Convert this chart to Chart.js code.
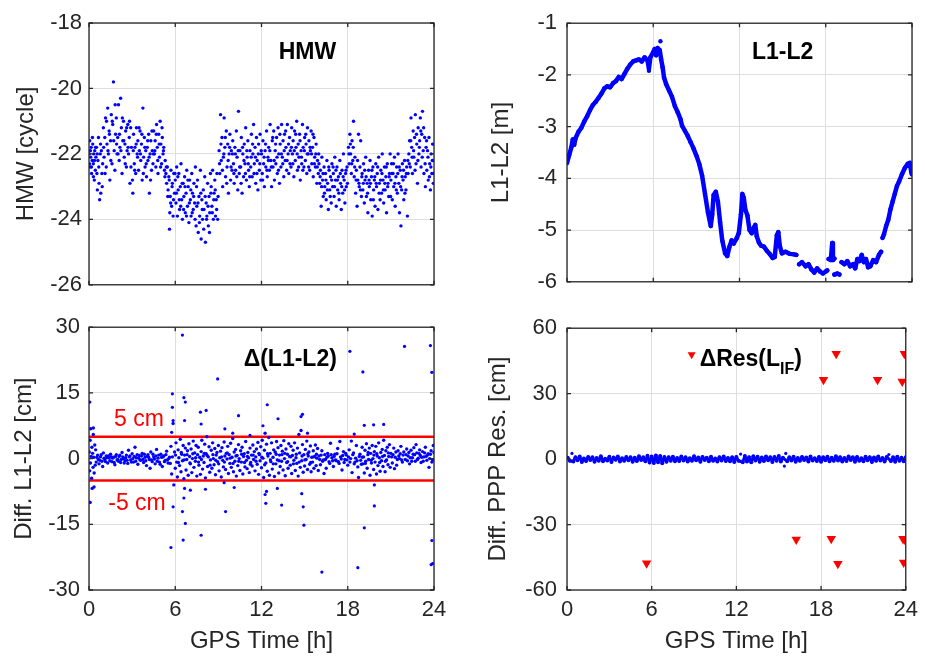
<!DOCTYPE html>
<html>
<head>
<meta charset="utf-8">
<script src="https://cdn.jsdelivr.net/npm/chart.js@4.4.1/dist/chart.umd.min.js"></script>
<style>
  body { margin: 0; background: #fff; }
  #wrap { position: relative; width: 925px; height: 656px; }
  canvas { position: absolute; }
</style>
</head>
<body>
<div id="wrap">
  <canvas id="hmwChart" width="455" height="305" style="left:0;top:0"></canvas>
  <canvas id="gfChart" width="470" height="305" style="left:455px;top:0"></canvas>
  <canvas id="diffChart" width="455" height="351" style="left:0;top:305px"></canvas>
  <canvas id="pppChart" width="470" height="351" style="left:455px;top:305px"></canvas>
</div>
<script>
// ---- data (GPS time [h], value) ----
const timeTicks = [0, 6, 12, 18, 24];

const hmwPoints = [
  [0.02,-22.0],[0.05,-21.6],[0.08,-22.4],[0.12,-22.1],[0.15,-21.8],[0.18,-22.6],[0.22,-22.2],[0.26,-21.7],[0.3,-22.3],[0.33,-22.0],[0.37,-22.8],[0.4,-21.9],[0.44,-22.5],[0.48,-22.1],
  [0.52,-21.8],[0.55,-22.6],[0.58,-23.1],[0.62,-22.2],[0.66,-21.5],[0.7,-22.9],[0.74,-23.4],[0.78,-22.0],[0.82,-23.2],[0.86,-21.9],[0.9,-22.6],[0.95,-22.3],
  [1.0,-21.2],[1.05,-22.1],[1.1,-21.5],[1.15,-20.9],[1.2,-22.4],[1.25,-21.7],[1.3,-20.6],[1.35,-22.0],[1.4,-21.3],[1.45,-22.8],[1.5,-21.6],[1.55,-20.8],[1.6,-22.3],[1.65,-21.1],[1.7,-19.8],[1.75,-21.9],[1.8,-22.5],[1.85,-21.4],[1.9,-20.9],[1.95,-22.0],
  [2.0,-21.5],[2.05,-20.5],[2.1,-22.2],[2.15,-21.8],[2.2,-20.3],[2.25,-21.2],[2.3,-22.6],[2.35,-21.6],[2.4,-21.0],[2.45,-22.1],[2.5,-21.7],[2.55,-21.3],[2.6,-22.4],[2.65,-21.9],[2.7,-21.1],[2.75,-22.0],[2.8,-21.5],[2.85,-22.9],[2.9,-21.2],[2.95,-21.8],[3.02,-22.8],[3.05,-23.2],
  [3.1,-21.4],[3.15,-22.3],[3.2,-21.8],[3.25,-22.6],[3.3,-21.2],[3.35,-22.0],[3.4,-21.6],[3.45,-22.5],[3.5,-21.9],[3.55,-21.3],[3.6,-22.2],[3.65,-21.7],[3.7,-22.8],[3.75,-20.6],[3.8,-22.1],[3.85,-21.5],[3.9,-22.4],[3.95,-21.9],[4.0,-22.7],[4.05,-21.8],[4.1,-22.2],[4.15,-21.4],[4.2,-23.2],[4.25,-22.0],[4.3,-21.6],[4.35,-22.5],[4.4,-21.9],[4.45,-22.3],
  [4.5,-21.3],[4.55,-22.0],[4.6,-21.6],[4.65,-22.4],[4.7,-21.1],[4.75,-21.8],[4.8,-22.6],[4.85,-21.4],[4.9,-22.1],[4.95,-21.0],[5.0,-21.7],[5.05,-22.3],[5.1,-21.5],[5.15,-22.0],[5.2,-21.8],[5.25,-22.5],
  [5.3,-22.2],[5.35,-22.6],[5.4,-22.9],[5.45,-22.4],[5.5,-23.1],[5.55,-22.7],[5.6,-24.3],[5.62,-23.8],[5.65,-23.3],[5.7,-22.5],[5.75,-23.6],[5.8,-22.9],[5.85,-23.9],[5.9,-22.6],[5.95,-23.2],
  [6.0,-22.8],[6.05,-23.5],[6.1,-22.4],[6.15,-23.9],[6.2,-23.1],[6.25,-22.6],[6.3,-23.7],[6.35,-23.0],[6.4,-22.3],[6.45,-23.4],[6.5,-24.0],[6.55,-22.9],[6.6,-23.3],[6.65,-22.7],[6.7,-23.8],[6.75,-23.2],[6.8,-22.5],[6.85,-23.6],[6.9,-23.0],[6.95,-24.1],[7.0,-22.8],[7.05,-23.4],[7.1,-23.9],[7.15,-22.6],[7.2,-23.2],[7.25,-23.7],[7.3,-22.9],[7.35,-23.5],[7.4,-22.4],[7.45,-24.2],
  [7.5,-23.6],[7.55,-22.8],[7.6,-24.4],[7.65,-23.3],[7.7,-23.9],[7.75,-22.5],[7.8,-24.6],[7.85,-23.4],[7.9,-24.0],[7.95,-23.1],[8.0,-23.7],[8.05,-22.7],[8.1,-24.7],[8.15,-23.5],[8.2,-23.9],[8.25,-22.9],[8.3,-24.2],[8.35,-23.3],[8.4,-23.8],[8.45,-22.6],
  [8.5,-23.0],[8.55,-23.6],[8.6,-22.5],[8.65,-24.0],[8.7,-23.2],[8.75,-22.8],[8.8,-23.9],[8.85,-23.4],[8.9,-22.6],[8.95,-24.0],
  [9.05,-21.9],[9.1,-22.6],[9.15,-20.8],[9.2,-22.2],[9.25,-21.5],[9.3,-23.0],[9.35,-22.1],[9.4,-20.9],[9.45,-21.8],[9.5,-22.7],[9.55,-21.3],[9.6,-22.4],[9.65,-21.7],[9.7,-23.2],[9.75,-22.0],[9.8,-21.4],[9.85,-22.8],[9.9,-21.9],[9.95,-22.5],
  [10.0,-21.6],[10.05,-22.3],[10.1,-22.9],[10.15,-21.8],[10.2,-22.5],[10.25,-21.3],[10.3,-22.1],[10.35,-23.1],[10.4,-20.7],[10.45,-22.6],[10.5,-21.9],[10.55,-22.4],[10.6,-21.5],[10.65,-23.2],[10.7,-22.0],[10.75,-22.7],[10.8,-21.7],[10.85,-22.3],[10.9,-21.2],[10.95,-22.8],[11.0,-22.1],[11.05,-21.6],[11.1,-22.5],[11.15,-23.0],[11.2,-21.9],[11.25,-22.4],[11.3,-21.4],[11.35,-22.7],[11.4,-22.0],[11.45,-21.1],
  [11.5,-22.3],[11.55,-21.8],[11.6,-22.9],[11.65,-21.5],[11.7,-22.2],[11.75,-23.1],[11.8,-21.7],[11.85,-22.5],[11.9,-21.4],[11.95,-22.8],[12.0,-22.0],[12.05,-22.6],[12.1,-21.6],[12.15,-22.3],[12.2,-23.0],[12.25,-21.9],[12.3,-22.4],[12.35,-21.3],[12.4,-22.7],[12.45,-22.1],
  [12.5,-21.8],[12.55,-22.5],[12.6,-21.1],[12.65,-22.2],[12.7,-23.0],[12.75,-21.6],[12.8,-22.4],[12.85,-21.3],[12.9,-22.8],[12.95,-21.9],[13.0,-22.3],[13.05,-21.5],[13.1,-22.6],[13.15,-21.2],[13.2,-22.0],[13.25,-22.9],[13.3,-21.7],[13.35,-22.4],[13.4,-21.1],[13.45,-22.1],[13.5,-21.6],[13.55,-22.7],[13.6,-21.4],[13.65,-22.2],[13.7,-21.8],[13.75,-22.5],[13.8,-21.1],[13.85,-22.0],[13.9,-22.6],[13.95,-21.5],
  [14.0,-21.9],[14.05,-22.4],[14.1,-21.2],[14.15,-22.0],[14.2,-21.6],[14.25,-22.7],[14.3,-21.3],[14.35,-22.2],[14.4,-21.8],[14.45,-21.0],[14.5,-22.5],[14.55,-21.7],[14.6,-22.1],[14.65,-21.4],[14.7,-22.8],[14.75,-21.9],[14.8,-22.3],[14.85,-21.1],[14.9,-21.8],[14.95,-22.4],
  [15.0,-21.5],[15.05,-22.2],[15.1,-21.7],[15.15,-22.6],[15.2,-21.2],[15.25,-22.0],[15.3,-21.6],[15.35,-22.5],[15.4,-21.9],[15.45,-21.3],[15.5,-22.3],[15.55,-21.8],[15.6,-22.7],[15.65,-21.5],[15.7,-22.1],[15.75,-22.4],[15.8,-21.7],[15.85,-22.9],[15.9,-22.2],[15.95,-22.6],
  [16.0,-22.3],[16.05,-22.9],[16.1,-22.5],[16.15,-23.6],[16.2,-22.1],[16.25,-22.8],[16.3,-23.3],[16.35,-22.4],[16.4,-23.0],[16.45,-22.6],[16.5,-23.4],[16.55,-22.2],[16.6,-22.9],[16.65,-23.7],[16.7,-22.5],[16.75,-23.1],[16.8,-22.7],[16.85,-23.5],[16.9,-22.3],[16.95,-23.0],
  [17.0,-22.6],[17.05,-23.3],[17.1,-22.1],[17.15,-22.8],[17.2,-23.6],[17.25,-22.4],[17.3,-23.1],[17.35,-22.7],[17.4,-23.4],[17.45,-22.2],[17.5,-22.9],[17.55,-23.7],[17.6,-22.5],[17.65,-23.2],[17.7,-22.0],[17.75,-22.8],[17.8,-23.5],[17.85,-22.6],[17.9,-23.0],[17.95,-22.4],
  [18.05,-21.8],[18.1,-22.3],[18.15,-21.4],[18.2,-22.0],[18.25,-22.6],[18.3,-21.6],[18.35,-22.2],[18.4,-21.0],[18.45,-22.7],[18.5,-22.1],[18.55,-23.2],[18.6,-22.5],[18.65,-23.6],[18.7,-22.8],[18.75,-21.4],[18.8,-23.0],[18.85,-22.4],[18.9,-21.6],[18.95,-23.3],
  [19.0,-22.6],[19.05,-23.1],[19.1,-22.3],[19.15,-23.5],[19.2,-22.8],[19.25,-22.1],[19.3,-23.3],[19.35,-22.9],[19.4,-23.8],[19.45,-22.5],[19.5,-23.0],[19.55,-22.2],[19.6,-23.4],[19.65,-22.7],[19.7,-23.9],[19.75,-22.4],[19.8,-23.1],[19.85,-22.8],[19.9,-23.6],[19.95,-22.3],
  [20.0,-23.0],[20.05,-22.6],[20.1,-23.7],[20.15,-22.1],[20.2,-22.9],[20.25,-23.4],[20.3,-22.5],[20.35,-23.2],[20.4,-22.0],[20.45,-22.8],[20.5,-23.5],[20.55,-22.4],[20.6,-23.1],[20.65,-22.7],[20.7,-23.8],[20.75,-22.3],[20.8,-22.9],[20.85,-23.3],[20.9,-22.6],[20.95,-22.0],
  [21.0,-22.8],[21.05,-22.3],[21.1,-23.4],[21.15,-22.6],[21.2,-23.0],[21.25,-22.1],[21.3,-23.6],[21.35,-22.7],[21.4,-22.4],[21.45,-23.2],[21.5,-22.0],[21.55,-22.9],[21.6,-23.8],[21.65,-22.5],[21.7,-24.2],[21.75,-23.1],[21.8,-22.3],[21.85,-22.8],[21.9,-23.4],[21.95,-22.2],[22.0,-22.7],[22.05,-23.1],[22.1,-22.4],[22.15,-23.9],[22.2,-22.6],[22.25,-22.0],
  [22.3,-21.6],[22.35,-22.4],[22.4,-20.9],[22.45,-21.8],[22.5,-22.6],[22.55,-21.3],[22.6,-22.1],[22.65,-21.5],[22.7,-20.8],[22.75,-22.3],[22.8,-21.7],[22.85,-22.9],[22.9,-21.2],[22.95,-22.0],[23.0,-21.6],[23.05,-20.9],[23.1,-22.4],[23.15,-21.4],[23.2,-20.7],[23.25,-21.9],[23.3,-22.6],[23.35,-21.5],[23.4,-23.0],[23.45,-21.8],
  [23.5,-22.5],[23.55,-21.9],[23.6,-22.8],[23.65,-21.5],[23.7,-22.3],[23.75,-23.1],[23.8,-22.0],[23.85,-22.6],[23.9,-21.7],[23.95,-22.9],[24.0,-22.2],
  // second pass over the denser core of the cloud
  [0.03,-22.3],[0.1,-21.9],[0.17,-22.4],[0.24,-21.5],[0.31,-22.7],[0.38,-22.2],[0.45,-21.8],[0.57,-22.0],[0.68,-22.4],[0.8,-21.7],[0.92,-23.0],
  [1.02,-21.8],[1.12,-22.6],[1.22,-21.0],[1.32,-21.9],[1.42,-21.4],[1.52,-22.2],[1.62,-21.0],[1.72,-21.6],[1.82,-20.5],[1.92,-21.7],
  [2.02,-22.0],[2.12,-21.4],[2.22,-21.9],[2.32,-20.9],[2.42,-21.6],[2.52,-22.3],[2.62,-21.2],[2.72,-21.8],[2.82,-21.0],[2.92,-22.4],
  [3.08,-21.9],[3.18,-22.5],[3.28,-21.7],[3.38,-22.1],[3.48,-21.2],[3.58,-22.0],[3.68,-21.4],[3.78,-22.6],[3.88,-21.8],[3.98,-22.3],[4.08,-21.6],[4.18,-22.1],[4.28,-22.8],[4.38,-21.3],[4.48,-22.0],
  [4.58,-21.9],[4.68,-21.4],[4.78,-22.2],[4.88,-21.7],[4.98,-22.4],[5.08,-21.2],[5.18,-21.9],[5.28,-22.7],
  [5.38,-22.4],[5.48,-23.3],[5.58,-22.8],[5.68,-23.5],[5.78,-23.0],[5.88,-23.4],[5.98,-22.6],
  [6.08,-23.2],[6.18,-22.7],[6.28,-23.4],[6.38,-23.6],[6.48,-22.9],[6.58,-23.7],[6.68,-23.0],[6.78,-23.9],[6.88,-22.8],[6.98,-23.5],[7.08,-23.1],[7.18,-23.8],[7.28,-23.3],[7.38,-24.0],[7.48,-23.0],
  [7.58,-23.5],[7.68,-24.1],[7.78,-23.2],[7.88,-23.7],[7.98,-24.3],[8.08,-23.3],[8.18,-24.0],[8.28,-23.6],[8.38,-24.4],[8.48,-23.2],[8.58,-23.8],[8.68,-23.4],[8.78,-23.1],[8.88,-23.7],[8.98,-23.3],
  [9.08,-22.3],[9.18,-21.7],[9.28,-22.5],[9.38,-22.0],[9.48,-21.5],[9.58,-22.9],[9.68,-22.2],[9.78,-21.8],[9.88,-22.4],[9.98,-22.0],[10.08,-22.6],[10.18,-22.0],[10.28,-22.7],[10.38,-21.9],[10.48,-22.4],
  [10.58,-22.9],[10.68,-21.8],[10.78,-22.2],[10.88,-22.6],[10.98,-21.9],[11.08,-22.3],[11.18,-22.7],[11.28,-22.1],[11.38,-21.7],[11.48,-22.6],
  [11.58,-22.1],[11.68,-22.6],[11.78,-22.0],[11.88,-22.3],[11.98,-21.9],[12.08,-22.8],[12.18,-22.1],[12.28,-21.7],[12.38,-22.5],[12.48,-22.2],[12.58,-21.9],[12.68,-22.4],[12.78,-21.5],[12.88,-22.2],[12.98,-21.7],
  [13.08,-22.1],[13.18,-22.5],[13.28,-21.4],[13.38,-22.0],[13.48,-22.3],[13.58,-21.9],[13.68,-21.3],[13.78,-22.2],[13.88,-21.7],[13.98,-22.3],[14.08,-21.8],[14.18,-22.3],[14.28,-21.9],[14.38,-21.4],[14.48,-22.0],
  [14.58,-22.4],[14.68,-21.6],[14.78,-22.1],[14.88,-22.5],[14.98,-21.9],[15.08,-21.4],[15.18,-22.0],[15.28,-22.4],[15.38,-21.8],[15.48,-22.0],[15.58,-21.4],[15.68,-22.3],[15.78,-22.0],[15.88,-22.4],[15.98,-22.0],
  [16.08,-22.7],[16.18,-23.0],[16.28,-22.6],[16.38,-23.2],[16.48,-22.8],[16.58,-23.1],[16.68,-22.4],[16.78,-23.3],[16.88,-22.8],[16.98,-22.4],[17.08,-23.0],[17.18,-22.5],[17.28,-22.8],[17.38,-23.2],[17.48,-22.6],
  [17.58,-23.0],[17.68,-22.7],[17.78,-23.1],[17.88,-22.5],[17.98,-22.9],
  [18.08,-22.0],[18.18,-21.7],[18.28,-22.3],[18.38,-21.8],[18.48,-22.4],[18.58,-22.8],[18.68,-22.2],[18.78,-22.9],[18.88,-23.1],[18.98,-22.7],[19.08,-22.9],[19.18,-22.5],[19.28,-22.7],[19.38,-23.2],[19.48,-22.8],
  [19.58,-22.9],[19.68,-22.5],[19.78,-23.4],[19.88,-22.7],[19.98,-22.9],[20.08,-22.4],[20.18,-23.2],[20.28,-22.8],[20.38,-22.6],[20.48,-23.1],[20.58,-22.9],[20.68,-22.4],[20.78,-23.0],[20.88,-22.7],[20.98,-23.3],
  [21.08,-22.6],[21.18,-22.3],[21.28,-22.9],[21.38,-23.1],[21.48,-22.6],[21.58,-22.4],[21.68,-23.0],[21.78,-22.7],[21.88,-22.5],[21.98,-23.2],[22.08,-22.6],[22.18,-22.2],[22.28,-22.3],[22.38,-21.6],[22.48,-22.1],
  [22.58,-21.9],[22.68,-22.5],[22.78,-21.4],[22.88,-22.2],[22.98,-21.8],[23.08,-21.3],[23.18,-22.1],[23.28,-21.2],[23.38,-22.3],[23.48,-21.6],[23.58,-22.1],[23.68,-22.7],[23.78,-22.4],[23.88,-22.2],[23.98,-22.6]
];

// geometry-free L1-L2 [m], gaps marked with null
const gfPoints = [
  [0.0,-3.70],[0.15,-3.55],[0.3,-3.40],[0.4,-3.25],[0.5,-3.35],[0.6,-3.22],[0.8,-3.10],[1.0,-3.02],[1.2,-2.90],[1.4,-2.80],[1.6,-2.68],[1.8,-2.58],[2.0,-2.52],[2.2,-2.44],[2.4,-2.36],[2.6,-2.26],[2.8,-2.22],[3.0,-2.24],[3.2,-2.16],[3.4,-2.12],[3.6,-2.04],[3.8,-2.08],[4.0,-1.98],[4.2,-1.88],[4.4,-1.80],[4.6,-1.74],[4.8,-1.72],[5.0,-1.70],[5.2,-1.74],[5.4,-1.66],[5.6,-1.72],[5.7,-1.88],[5.8,-1.66],[6.0,-1.56],[6.1,-1.50],[6.2,-1.62],[6.3,-1.48],[6.45,-1.52],[6.55,-1.70],[6.65,-1.85],[6.75,-2.05],[6.9,-2.18],[7.1,-2.30],[7.3,-2.42],[7.5,-2.60],[7.7,-2.72],[7.9,-2.86],[8.0,-2.98],[8.2,-3.08],[8.4,-3.18],[8.6,-3.30],[8.8,-3.42],[9.0,-3.56],[9.2,-3.72],[9.4,-3.95],[9.6,-4.30],[9.8,-4.65],[10.0,-4.92],[10.1,-4.70],[10.2,-4.32],[10.35,-4.26],[10.5,-4.45],[10.65,-4.85],[10.8,-5.20],[11.0,-5.45],[11.15,-5.50],[11.3,-5.32],[11.45,-5.20],[11.6,-5.26],[11.8,-5.16],[11.95,-5.06],[12.1,-4.70],[12.2,-4.30],[12.3,-4.38],[12.4,-4.60],[12.55,-4.72],[12.7,-5.00],[12.85,-5.06],[13.0,-4.95],[13.1,-4.90],[13.2,-5.12],[13.35,-5.24],[13.5,-5.30],[13.7,-5.32],[13.9,-5.40],[14.1,-5.46],[14.3,-5.54],[14.45,-5.52],[14.6,-5.10],[14.7,-5.04],[14.8,-5.30],[14.95,-5.45],[15.2,-5.42],[15.5,-5.46],[15.8,-5.47],[15.95,-5.48],
  [16.05,null],
  [16.15,-5.66],[16.35,-5.62],[16.6,-5.70],[16.8,-5.66],[17.0,-5.76],[17.2,-5.82],[17.4,-5.74],[17.6,-5.80],[17.8,-5.84],[18.0,-5.80],[18.1,-5.78],
  [18.15,null],
  [18.2,-5.56],[18.35,-5.58],[18.45,-5.25],[18.5,-5.58],[18.6,-5.55],
  [18.6,null],
  [18.6,-5.86],[18.8,-5.84],[18.95,-5.86],
  [19.0,null],
  [19.1,-5.62],[19.3,-5.66],[19.5,-5.60],[19.7,-5.70],[19.9,-5.66],[20.05,-5.74],[20.2,-5.56],[20.35,-5.60],[20.5,-5.48],[20.65,-5.62],[20.8,-5.56],[20.95,-5.72],[21.1,-5.70],[21.3,-5.58],[21.5,-5.62],[21.7,-5.48],[21.85,-5.42],
  [21.9,null],
  [21.95,-5.15],[22.05,-5.08],[22.2,-4.92],[22.35,-4.80],[22.5,-4.60],[22.65,-4.45],[22.8,-4.30],[22.95,-4.15],[23.1,-4.06],[23.3,-3.92],[23.5,-3.80],[23.7,-3.72],[23.85,-3.70],[23.95,-3.88],[24.0,-3.92]
];
const gfSpikes = [[6.5,-1.35],[5.7,-1.92],[18.5,-5.58]];

// difference of L1-L2 [cm]
const diffPoints = [
  [0.02,1.5],[0.05,-2.8],[0.08,4.2],[0.1,-1.0],[0.12,6.8],[0.15,0.5],[0.18,-4.5],[0.2,2.6],[0.22,-6.8],[0.25,1.2],[0.28,-2.0],[0.3,5.5],[0.33,0.3],[0.36,-3.3],[0.4,3.1],[0.43,-1.5],[0.46,2.0],[0.5,-0.8],[0.08,-10.0],[0.05,12.9],[0.3,7.0],[0.35,-6.5],
  [0.6,0.8],[0.7,-1.2],[0.8,0.4],[0.9,-0.6],[1.0,1.3],[1.1,-0.3],[1.2,0.6],[1.3,-1.0],[1.4,0.2],[1.5,1.0],[1.6,-0.7],[1.7,0.3],[1.8,-1.4],[1.9,0.9],[2.0,-0.2],[2.1,0.5],[2.2,-0.9],[2.3,1.4],[2.4,0.0],[2.5,-0.5],[2.6,0.8],[2.7,-1.1],[2.8,0.4],[2.9,-0.3],[3.0,1.1],[3.1,-0.8],[3.2,2.6],[3.3,0.2],[3.4,-1.3],[3.5,0.7],[3.6,-0.4],[3.7,1.2],[3.8,-0.9],[3.9,0.3],[4.0,-1.6],[4.1,0.9],[4.2,-0.2],[4.3,1.5],[4.4,-0.7],[4.5,0.4],[4.6,-1.2],[4.7,2.1],[4.8,0.1],[4.9,-0.8],[5.0,1.0],[5.1,-1.8],[5.2,0.6],[5.3,-0.4],[5.4,1.7],[5.5,-1.0],[5.6,0.3],
  [0.65,-0.2],[1.05,0.1],[1.55,0.4],[2.05,-0.6],[2.55,0.2],[3.05,0.0],[3.55,-0.3],[4.05,0.5],[4.55,-0.1],[5.05,0.3],[5.55,0.0],[0.95,-1.8],[2.75,1.9],[4.25,-2.2],
  [5.7,2.8],[5.75,-3.5],[5.8,0.4],[5.85,8.0],[5.9,-6.0],[5.95,1.5],[6.0,-2.2],[6.05,3.6],[6.1,-0.8],[6.15,-4.2],[6.2,2.0],[6.25,0.2],[6.3,-1.6],[6.35,4.4],[6.4,-3.0],[6.45,1.0],[6.5,-0.5],[6.55,3.0],[6.6,-4.6],[6.65,0.8],[6.7,2.4],[6.75,-2.6],[6.8,-0.2],[6.85,1.8],[6.9,-3.8],[6.95,3.4],
  [7.0,0.5],[7.05,-1.2],[7.1,2.2],[7.15,-3.2],[7.2,0.0],[7.25,4.0],[7.3,-2.0],[7.35,1.3],[7.4,-0.6],[7.45,3.0],[7.5,-4.0],[7.55,0.9],[7.6,2.6],[7.65,-1.5],[7.7,0.3],[7.75,-3.6],[7.8,1.6],[7.85,4.2],[7.9,-2.4],[7.95,0.6],
  [8.0,-0.9],[8.05,3.3],[8.1,-4.4],[8.15,1.1],[8.2,5.0],[8.25,-1.8],[8.3,0.4],[8.35,2.7],[8.4,-3.1],[8.45,-0.3],[8.5,1.9],[8.55,-2.2],[8.6,3.6],[8.65,0.0],[8.7,-1.4],[8.75,2.3],[8.8,-3.7],[8.85,0.8],[8.9,1.4],[8.95,-0.7],
  [9.0,3.0],[9.05,-2.8],[9.1,0.2],[9.15,1.7],[9.2,-4.2],[9.25,2.5],[9.3,-0.4],[9.35,-1.9],[9.4,3.8],[9.45,0.6],[9.5,-2.5],[9.55,1.2],[9.6,-0.1],[9.65,2.8],[9.7,-3.4],[9.75,0.9],[9.8,-1.1],[9.85,3.5],[9.9,-2.0],[9.95,0.3],
  [10.0,4.6],[10.05,-3.0],[10.1,1.5],[10.15,-0.6],[10.2,2.1],[10.25,-4.0],[10.3,0.7],[10.35,-1.6],[10.4,3.2],[10.45,0.0],[10.5,-2.7],[10.55,1.8],[10.6,-0.8],[10.65,2.6],[10.7,-3.5],[10.75,0.5],[10.8,1.1],[10.85,-1.9],[10.9,3.9],[10.95,-0.4],
  [11.0,-2.3],[11.05,1.4],[11.1,0.2],[11.15,-3.2],[11.2,2.4],[11.25,-0.9],[11.3,0.8],[11.35,-1.7],[11.4,3.1],[11.45,-0.2],[11.5,1.6],[11.55,-2.8],[11.6,0.4],[11.65,2.2],[11.7,-1.3],[11.75,3.7],[11.8,-3.6],[11.85,0.9],[11.9,-0.5],[11.95,2.7],
  [12.0,-2.1],[12.05,4.2],[12.1,0.1],[12.15,-4.3],[12.2,1.9],[12.25,5.8],[12.3,-1.0],[12.35,3.3],[12.4,-2.9],[12.45,0.6],[12.5,4.8],[12.55,-3.8],[12.6,1.2],[12.65,-0.7],[12.7,3.6],[12.75,-2.4],[12.8,0.3],[12.85,2.0],[12.9,-4.1],[12.95,1.5],
  [13.0,-1.2],[13.05,3.9],[13.1,-0.3],[13.15,2.5],[13.2,-3.3],[13.25,0.8],[13.3,-1.8],[13.35,3.0],[13.4,-0.6],[13.45,1.7],[13.5,-2.6],[13.55,4.1],[13.6,0.0],[13.65,-3.9],[13.7,2.2],[13.75,-0.9],[13.8,1.0],[13.85,-2.2],[13.9,3.4],[13.95,0.5],
  [14.0,-1.5],[14.05,2.8],[14.1,-3.4],[14.15,0.7],[14.2,1.9],[14.25,-0.4],[14.3,3.6],[14.35,-2.7],[14.4,0.2],[14.45,-1.1],[14.5,2.4],[14.55,-4.0],[14.6,5.5],[14.65,1.3],[14.7,-2.0],[14.75,6.4],[14.8,-0.5],[14.85,3.2],[14.9,-3.1],[14.95,0.9],
  [15.0,-1.7],[15.05,2.1],[15.1,-0.2],[15.15,4.0],[15.2,-2.5],[15.25,0.6],[15.3,1.5],[15.35,-1.3],[15.4,2.9],[15.45,-3.0],[15.5,0.3],[15.55,-0.8],[15.6,1.8],[15.65,-2.2],[15.7,0.5],[15.75,3.1],[15.8,-1.6],[15.85,0.1],[15.9,2.3],[15.95,-2.7],
  [16.0,0.6],[16.1,-1.4],[16.2,1.8],[16.3,-0.3],[16.4,0.9],[16.5,-2.2],[16.6,1.2],[16.7,-0.7],[16.8,3.5],[16.9,0.2],[17.0,-1.8],[17.1,1.0],[17.2,-0.5],[17.3,2.3],[17.4,-1.1],[17.5,0.4],[17.6,-2.6],[17.7,1.6],[17.8,-0.2],[17.9,0.8],[18.0,-1.5],[18.1,2.0],[18.2,0.0],[18.3,-3.2],[18.4,1.3],[18.5,-0.8],[18.6,3.0],[18.7,-1.9],[18.8,0.5],[18.9,-0.4],
  [16.05,-0.2],[16.55,0.3],[17.05,0.5],[17.55,-0.1],[18.05,0.4],[18.55,0.1],[16.35,-3.4],[17.45,3.9],[18.25,4.0],[18.75,-4.3],
  [19.0,2.6],[19.05,-1.2],[19.1,0.4],[19.15,-3.3],[19.2,1.9],[19.25,-0.6],[19.3,3.4],[19.35,-2.2],[19.4,0.9],[19.45,-0.2],[19.5,2.4],[19.55,-3.8],[19.6,1.2],[19.65,-1.0],[19.7,3.0],[19.75,0.0],[19.8,-2.5],[19.85,1.6],[19.9,-0.8],[19.95,2.8],
  [20.0,-3.5],[20.05,0.6],[20.1,-1.6],[20.15,3.6],[20.2,0.2],[20.25,-2.9],[20.3,1.4],[20.35,-0.5],[20.4,2.1],[20.45,-1.8],[20.5,4.2],[20.55,0.7],[20.6,-3.0],[20.65,1.8],[20.7,-0.3],[20.75,2.6],[20.8,-1.4],[20.85,0.5],[20.9,3.2],[20.95,-2.0],
  [21.0,1.2],[21.1,-1.0],[21.2,2.4],[21.3,0.3],[21.4,-1.5],[21.5,1.8],[21.6,0.0],[21.7,2.8],[21.8,-0.8],[21.9,1.5],[22.0,-0.2],[22.1,2.2],[22.2,0.6],[22.3,-1.2],[22.4,1.9],[22.5,0.2],[22.6,2.5],[22.7,-0.6],[22.8,1.3],[22.9,0.1],[23.0,2.0],[23.1,-0.9],[23.2,1.6],[23.3,0.4],[23.4,2.6],[23.5,-0.4],[23.6,1.1],[23.7,0.0],[23.8,1.8],[23.9,-0.3],[24.0,1.4],
  [21.05,0.4],[21.55,0.6],[22.05,0.9],[22.55,1.0],[23.05,0.7],[23.55,0.8],[21.25,-2.3],[22.75,3.2],[23.65,-2.0],[23.95,3.0],
  // core of the band
  [0.55,0.3],[0.75,-0.4],[0.85,0.9],[1.15,-0.7],[1.25,0.2],[1.35,0.6],[1.45,-0.5],[1.65,0.1],[1.75,-0.9],[1.85,0.5],[1.95,-0.3],[2.15,0.8],[2.25,-0.2],[2.35,0.4],[2.45,-1.0],[2.65,-0.4],[2.85,0.6],[2.95,-0.8],
  [3.15,0.5],[3.25,-0.6],[3.35,0.9],[3.45,0.1],[3.65,0.6],[3.75,-0.2],[3.85,1.0],[3.95,-0.5],[4.15,0.3],[4.35,-0.3],[4.45,1.0],[4.65,0.6],[4.75,-0.6],[4.85,0.8],[4.95,-1.3],[5.15,0.4],[5.25,-0.7],[5.35,0.9],[5.45,-0.3],[5.65,-1.1],
  [6.02,0.8],[6.22,-0.9],[6.42,1.4],[6.62,-0.3],[6.82,0.9],[7.02,-1.0],[7.22,1.1],[7.42,0.2],[7.62,-0.8],[7.82,-0.2],[8.02,1.2],[8.22,0.7],[8.42,-1.5],[8.62,0.9],[8.82,-0.4],[9.02,-1.2],[9.22,0.4],[9.42,-0.8],[9.62,1.3],[9.82,0.1],
  [10.02,-1.1],[10.22,0.6],[10.42,-0.6],[10.62,1.0],[10.82,-0.9],[11.02,0.5],[11.22,-1.3],[11.42,0.8],[11.62,-0.6],[11.82,1.2],[12.02,0.3],[12.22,-1.4],[12.42,1.1],[12.62,-0.3],[12.82,-1.2],[13.02,1.0],[13.22,-0.5],[13.42,0.9],[13.62,1.2],[13.82,-0.7],
  [14.02,0.4],[14.22,-1.2],[14.42,1.0],[14.62,-0.8],[14.82,0.6],[15.02,-0.3],[15.22,1.1],[15.42,-0.9],[15.62,0.4],[15.82,1.0],
  [16.15,0.8],[16.25,-0.6],[16.45,-0.2],[16.65,0.6],[16.75,-1.1],[16.85,0.9],[16.95,-0.5],[17.15,-0.3],[17.25,1.1],[17.35,-0.7],[17.65,0.7],[17.75,-0.9],[17.85,1.2],[17.95,-0.3],[18.15,-0.8],[18.35,0.9],[18.45,-1.2],[18.65,-0.5],[18.85,1.0],[18.95,-1.3],
  [19.02,0.3],[19.22,-1.1],[19.42,1.4],[19.62,-0.4],[19.82,0.8],[20.02,1.1],[20.22,-0.9],[20.42,0.5],[20.62,-0.6],[20.82,1.3],[21.15,0.9],[21.35,1.5],[21.45,-0.2],[21.65,1.1],[21.75,-0.3],[21.85,0.8],[22.15,-0.5],[22.25,1.4],[22.35,0.2],[22.45,-0.6],
  [22.65,0.9],[22.85,-0.2],[22.95,1.2],[23.15,0.3],[23.25,-0.6],[23.35,1.3],[23.45,0.5],[23.75,1.0],[23.85,-0.8]
];
const diffOutliers = [
  [5.8,14.8],[5.8,11.7],[5.85,8.7],[5.75,6.0],[6.6,13.9],[6.7,12.9],[6.65,8.7],[6.5,28.2],[5.7,-20.3],[5.85,-11.0],[6.5,-12.1],[6.7,-14.8],[6.55,-18.6],[6.6,-9.0],[6.65,-6.8],
  [8.95,18.2],[7.75,10.6],[8.15,11.0],[7.8,7.9],[7.8,-17.5],[9.5,-12.1],[9.45,6.8],[10.4,9.8],[10.0,5.8],[12.4,12.3],[13.15,9.1],[12.1,7.5],[12.3,-10.2],[12.25,-8.2],[12.35,-7.5],[13.4,-10.6],
  [14.75,9.6],[14.85,10.1],[14.95,-15.2],[14.8,-8.0],[14.9,-11.0],[16.2,-25.9],[18.15,24.5],[19.05,19.8],[19.15,7.6],[19.8,7.7],[20.5,7.8],[19.15,-15.8],[18.7,-24.9],[19.85,-10.8],[19.85,-6.0],
  [21.95,25.6],[23.75,25.8],[23.85,19.7],[23.85,-18.7],[23.8,-24.2],[23.9,-24.0],[18.45,5.6],[8.1,-7.0],[9.4,-5.5],[10.1,-6.6],[13.1,-6.8],[7.05,-7.2],[11.2,5.3],[15.2,5.8]
];
const diffLimits = [5, -5];

// PPP residual difference [cm]
const pppPoints = [
  [0.05,0.6],[0.2,-0.8],[0.45,-1.1],[0.6,0.9],[0.75,-0.5],[0.9,1.2],[1.05,-1.3],[1.2,0.3],[1.35,-0.9],[1.5,1.0],[1.65,-0.4],[1.8,0.8],[1.95,-1.2],[2.1,0.5],[2.25,-0.7],[2.4,1.3],[2.55,-1.0],[2.7,0.2],[2.85,-0.6],
  [3.0,1.1],[3.15,-1.3],[3.3,0.7],[3.45,-0.3],[3.6,1.2],[3.75,-1.1],[3.9,0.4],[4.05,-0.8],[4.2,1.0],[4.35,-0.5],[4.5,0.9],[4.65,-1.2],[4.8,0.6],[4.95,-0.9],[5.1,1.3],[5.25,-0.4],[5.4,0.8],[5.55,-1.0],[5.7,1.5],[5.85,-1.6],
  [6.0,1.2],[6.15,-1.8],[6.3,1.7],[6.45,-1.4],[6.6,1.4],[6.75,-1.9],[6.9,1.0],[7.05,-1.2],[7.2,0.9],[7.35,-0.7],[7.5,1.1],[7.65,-1.0],[7.8,0.5],[7.95,-0.9],[8.1,1.2],[8.25,-0.6],[8.4,0.8],[8.55,-1.1],[8.7,0.4],[8.85,-0.8],
  [9.0,1.3],[9.15,-0.5],[9.3,0.7],[9.45,-1.2],[9.6,1.0],[9.75,-0.4],[9.9,0.6],[10.05,-1.0],[10.2,1.1],[10.35,-0.7],[10.5,0.3],[10.65,-1.1],[10.8,0.9],[10.95,-0.6],[11.1,1.2],[11.25,-0.9],[11.4,0.5],[11.55,-1.0],[11.7,0.8],[11.85,-1.3],
  [12.0,1.0],[12.15,-0.8],[12.45,-1.4],[12.6,1.4],[12.75,-1.1],[12.9,0.9],[13.05,-1.5],[13.2,1.3],[13.35,-0.6],[13.5,1.1],[13.65,-1.2],[13.8,0.7],[13.95,-0.9],[14.1,1.2],[14.25,-0.5],[14.4,0.9],[14.55,-1.3],[14.7,1.0],[14.85,-0.7],
  [15.0,1.4],[15.15,-1.1],[15.3,0.6],[15.6,-1.0],[15.75,0.8],[15.9,-0.6],[16.05,1.1],[16.2,-1.2],[16.35,0.5],[16.5,-0.8],[16.65,1.0],[16.8,-0.4],[16.95,0.7],[17.1,-1.1],[17.25,1.2],[17.4,-0.6],[17.55,0.4],[17.7,-0.9],
  [17.85,1.0],[18.0,-1.2],[18.15,0.8],[18.3,-0.5],[18.45,1.1],[18.6,-1.0],[18.75,0.6],[18.9,-0.8],[19.05,1.3],[19.2,-0.6],[19.35,0.9],[19.5,-1.1],[19.65,0.5],[19.8,-0.9],[19.95,1.2],[20.1,-0.4],[20.25,0.8],[20.4,-1.2],[20.55,1.0],[20.7,-0.7],
  [20.85,0.4],[21.0,-1.0],[21.15,1.1],[21.3,-0.5],[21.45,0.9],[21.6,-1.3],[21.75,0.7],[21.9,-0.8],[22.05,1.2],[22.2,-0.6],[22.35,0.5],[22.5,-1.1],[22.65,1.0],[22.95,-0.9],[23.1,0.8],[23.25,-1.2],[23.4,1.1],[23.55,-0.7],[23.7,0.6],[23.85,-1.0],[24.0,0.9]
];
const pppSpikes = [[0.35,2.6],[12.3,2.3],[15.4,-3.2],[15.5,2.6],[22.8,2.1]];
const pppJumps = [
  [19.07,48.3],[23.9,48.3],[18.17,36.4],[22.0,36.4],[23.75,35.6],
  [16.24,-36.8],[18.72,-36.5],[23.8,-36.5],[23.9,-36.8],[5.64,-47.7],[19.19,-48.0],[23.85,-47.4]
];

// ---- styling helpers ----
const FONT = "'Liberation Sans', Arial, Helvetica, sans-serif";
const INK = '#262626';
const BLUE = '#0000ff';
const RED = '#ff0000';

const boxPlugin = {
  id: 'matlabBox',
  afterDatasetsDraw(chart) {
    const { ctx, chartArea: a, scales } = chart;
    ctx.save();
    ctx.strokeStyle = INK;
    ctx.lineWidth = 1.3;
    ctx.strokeRect(a.left, a.top, a.width, a.height);
    ctx.beginPath();
    scales.x.ticks.forEach(t => {
      const px = scales.x.getPixelForValue(t.value);
      ctx.moveTo(px, a.bottom); ctx.lineTo(px, a.bottom - 4);
      ctx.moveTo(px, a.top); ctx.lineTo(px, a.top + 4);
    });
    scales.y.ticks.forEach(t => {
      const py = scales.y.getPixelForValue(t.value);
      ctx.moveTo(a.left, py); ctx.lineTo(a.left + 4, py);
      ctx.moveTo(a.right, py); ctx.lineTo(a.right - 4, py);
    });
    ctx.stroke();
    ctx.restore();
  }
};

function labelPlugin(items) {
  return {
    id: 'panelLabels',
    afterDraw(chart) {
      const { ctx, scales: { x, y } } = chart;
      ctx.save();
      ctx.textBaseline = 'middle';
      items.forEach(it => {
        const px = x.getPixelForValue(it.x);
        const py = y.getPixelForValue(it.y);
        if (it.draw) { it.draw(ctx, px, py); return; }
        ctx.font = it.font;
        ctx.fillStyle = it.color || '#000';
        ctx.textAlign = it.align || 'center';
        ctx.fillText(it.text, px, py);
      });
      ctx.restore();
    }
  };
}

function makePanel(id, opts) {
  const showX = opts.showX;
  return new Chart(document.getElementById(id), {
    type: 'scatter',
    data: { datasets: opts.datasets },
    options: {
      responsive: false,
      animation: false,
      devicePixelRatio: 1,
      layout: { padding: opts.padding },
      plugins: { legend: { display: false }, tooltip: { enabled: false } },
      scales: {
        x: {
          type: 'linear', min: 0, max: 24,
          afterBuildTicks: s => { s.ticks = timeTicks.map(v => ({ value: v })); },
          afterFit: s => { s.height = opts.xHeight; },
          grid: { color: '#dedede', drawTicks: false },
          border: { display: false },
          ticks: { display: showX, color: INK, padding: 7, font: { family: FONT, size: 22 } },
          title: {
            display: showX, text: 'GPS Time [h]', color: INK,
            font: { family: FONT, size: 24 }, padding: { top: 0, bottom: 0 }
          }
        },
        y: {
          min: opts.yMin, max: opts.yMax,
          afterBuildTicks: s => { s.ticks = opts.yTicks.map(v => ({ value: v })); },
          afterFit: s => { s.width = opts.yWidth; },
          grid: { color: '#dedede', drawTicks: false },
          border: { display: false },
          ticks: { color: INK, padding: opts.tickPad, font: { family: FONT, size: 22 } },
          title: {
            display: true, text: opts.yTitle, color: INK,
            font: { family: FONT, size: 24 }, padding: { top: opts.titlePad, bottom: 0 }
          }
        }
      }
    },
    plugins: [boxPlugin, labelPlugin(opts.labels)]
  });
}

const dot = (data, color, r) => ({
  data, backgroundColor: color, borderColor: color, pointRadius: r, pointBorderWidth: 0
});

// HMW
makePanel('hmwChart', {
  showX: false, xHeight: 0, yWidth: 89, tickPad: 7, titlePad: 12,
  padding: { top: 23, right: 21, bottom: 20, left: 0 },
  yMin: -26, yMax: -18, yTicks: [-26, -24, -22, -20, -18], yTitle: 'HMW [cycle]',
  datasets: [dot(hmwPoints, BLUE, 1.7)],
  labels: [{ x: 15.2, y: -18.9, text: 'HMW', font: `bold 23px ${FONT}` }]
});

// L1-L2
makePanel('gfChart', {
  showX: false, xHeight: 0, yWidth: 112, tickPad: 10, titlePad: 32,
  padding: { top: 23, right: 13, bottom: 19, left: 0 },
  yMin: -6, yMax: -1, yTicks: [-6, -5, -4, -3, -2, -1], yTitle: 'L1-L2 [m]',
  datasets: [
    Object.assign(dot(gfPoints, BLUE, 2.2), {
      showLine: true, borderWidth: 4.5, spanGaps: false, borderJoinStyle: 'round', borderCapStyle: 'round'
    }),
    dot(gfSpikes, BLUE, 2.2)
  ],
  labels: [{ x: 15.0, y: -1.57, text: 'L1-L2', font: `bold 23px ${FONT}` }]
});

// Δ(L1-L2)
makePanel('diffChart', {
  showX: true, xHeight: 66, yWidth: 89, tickPad: 9, titlePad: 10,
  padding: { top: 21, right: 21, bottom: 0, left: 0 },
  yMin: -30, yMax: 30, yTicks: [-30, -15, 0, 15, 30], yTitle: 'Diff. L1-L2 [cm]',
  datasets: [
    dot(diffPoints, BLUE, 1.7),
    dot(diffOutliers, BLUE, 1.6),
    ...diffLimits.map(v => ({
      data: [[0, v], [24, v]], showLine: true, borderColor: RED, borderWidth: 2.5, pointRadius: 0
    }))
  ],
  labels: [
    { x: 14.0, y: 22.7, text: '\u0394(L1-L2)', font: `bold 23px ${FONT}` },
    { x: 3.48, y: 8.9, text: '5 cm', font: `23px ${FONT}`, color: RED },
    { x: 3.34, y: -10.4, text: '-5 cm', font: `23px ${FONT}`, color: RED }
  ]
});

// ΔRes(L_IF)
makePanel('pppChart', {
  showX: true, xHeight: 66, yWidth: 112, tickPad: 10, titlePad: 29,
  padding: { top: 21, right: 13, bottom: 0, left: 0 },
  yMin: -60, yMax: 60, yTicks: [-60, -30, 0, 30, 60], yTitle: 'Diff. PPP Res. [cm]',
  datasets: [
    Object.assign(dot(pppPoints, BLUE, 2), { showLine: true, borderWidth: 3, borderJoinStyle: 'round' }),
    dot(pppSpikes, BLUE, 1.6),
    { data: pppJumps, pointStyle: 'triangle', rotation: 180, pointRadius: 5.5,
      backgroundColor: RED, borderColor: RED, pointBorderWidth: 0 }
  ],
  labels: [{
    x: 8.83, y: 47.6,
    draw(ctx, px, py) {
      // legend marker
      ctx.fillStyle = RED;
      ctx.beginPath();
      ctx.moveTo(px - 4, py - 3); ctx.lineTo(px + 4, py - 3); ctx.lineTo(px, py + 4);
      ctx.closePath(); ctx.fill();
      ctx.fillStyle = '#000';
      ctx.textAlign = 'left';
      let cx = px + 8;
      ctx.font = `bold 23px ${FONT}`;
      ctx.fillText('\u0394Res(L', cx, py + 4);
      cx += ctx.measureText('\u0394Res(L').width;
      ctx.font = `bold 16px ${FONT}`;
      ctx.fillText('IF', cx, py + 14);
      cx += ctx.measureText('IF').width;
      ctx.font = `bold 23px ${FONT}`;
      ctx.fillText(')', cx, py + 4);
    }
  }]
});
</script>
</body>
</html>
